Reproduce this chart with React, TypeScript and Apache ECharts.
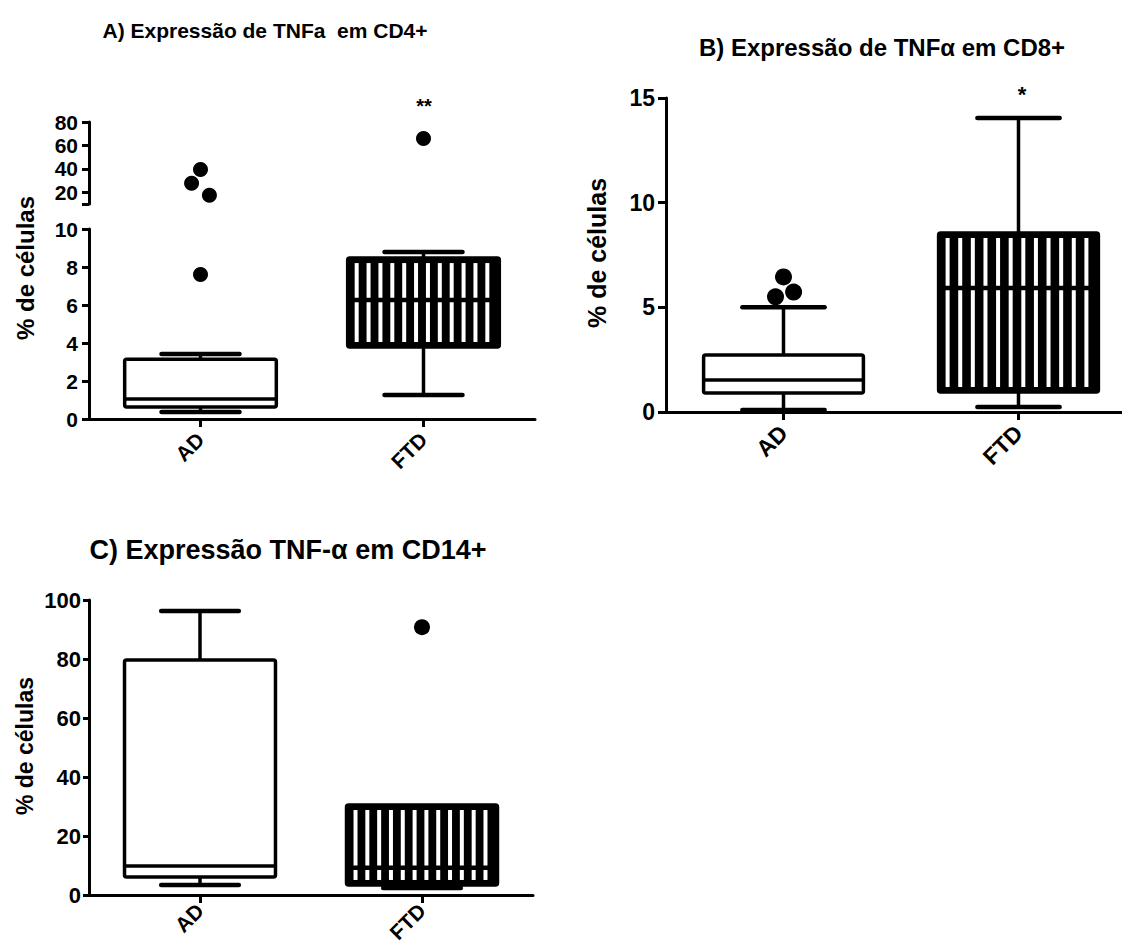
import React, { useEffect, useRef } from "react";
import * as echarts from "echarts";

const categories = ["AD", "FTD"];

// five-number summaries: [min, Q1, median, Q3, max]
const boxA_AD = [0.37, 0.63, 1.05, 3.15, 3.42];
const boxA_FTD = [1.26, 3.79, 6.26, 8.47, 8.79];
const outliersA_AD_low = [7.6];
const outliersA_AD_high = [39.5, 27.7, 17.4];
const jitterA_AD_high = [0, -0.04, 0.04];
const outliersA_FTD_high = [66];

const boxB_AD = [0.1, 0.91, 1.53, 2.72, 5.0];
const boxB_FTD = [0.24, 0.96, 5.92, 8.55, 14.05];
const outliersB_AD = [6.45, 5.5, 5.73];
const jitterB_AD = [0, -0.034, 0.043];

const boxC_AD = [3.4, 6.1, 9.8, 79.7, 96.3];
const boxC_FTD = [2.4, 3.4, 9.2, 30.5, 30.5];
const outliersC_FTD = [90.8];

const ticksA_low = [0, 2, 4, 6, 8, 10];
const ticksA_high = [20, 40, 60, 80];
const ticksB = [0, 5, 10, 15];
const ticksC = [0, 20, 40, 60, 80, 100];

const FONT = "'Liberation Sans', Arial, Helvetica, sans-serif";

function renderBox(params: any, api: any) {
  const x = api.value(0);
  const lo = api.coord([x, api.value(1)]);
  const q1 = api.coord([x, api.value(2)]);
  const med = api.coord([x, api.value(3)]);
  const q3 = api.coord([x, api.value(4)]);
  const hi = api.coord([x, api.value(5)]);
  const unit = api.size([1, 0])[0];
  const w = unit * 0.68;
  const cw = unit * 0.35;
  const cx = lo[0];
  const left = cx - w / 2;
  const hatched = params.dataIndex === 1;
  const line = (x1: number, y1: number, x2: number, y2: number, lw: number, cap = "round") => ({
    type: "line",
    shape: { x1, y1, x2, y2 },
    style: { stroke: "#000", lineWidth: lw, lineCap: cap },
  });
  const children: any[] = [];
  children.push(line(cx, hi[1], cx, q3[1], 3.5, "butt"));
  children.push(line(cx, q1[1], cx, lo[1], 3.5, "butt"));
  if (hi[1] < q3[1] - 1) children.push(line(cx - cw / 2, hi[1], cx + cw / 2, hi[1], 4.5));
  children.push(line(cx - cw / 2, lo[1], cx + cw / 2, lo[1], 4.5));
  children.push({
    type: "rect",
    shape: { x: left, y: q3[1], width: w, height: q1[1] - q3[1], r: 2 },
    style: { fill: hatched ? "#000" : "#fff", stroke: "#000", lineWidth: 3.5 },
  });
  if (hatched) {
    const n = 12;
    const sw = 4;
    const start = left + 7;
    const period = (w - 17 - sw) / (n - 1);
    for (let i = 0; i < n; i++) {
      children.push({
        type: "rect",
        shape: { x: start + i * period, y: q3[1] + 5, width: sw, height: q1[1] - q3[1] - 10 },
        style: { fill: "#fff" },
      });
    }
  }
  children.push(line(left, med[1], left + w, med[1], hatched ? 4.5 : 3.5, "butt"));
  return { type: "group", children };
}

function xAxisCfg(gridIndex: number, show: boolean, fontSize: number, margin: number) {
  return {
    type: "value",
    gridIndex,
    min: -0.5,
    max: 1.5,
    show,
    splitLine: { show: false },
    axisLine: { show: true, onZero: false, lineStyle: { color: "#000", width: 3 } },
    axisTick: { show: true, customValues: [0, 1], length: 8, lineStyle: { color: "#000", width: 3 } },
    axisLabel: {
      customValues: [0, 1],
      formatter: (v: number) => categories[Math.round(v)] ?? "",
      rotate: 45,
      fontSize,
      fontWeight: "bold",
      color: "#000",
      fontFamily: FONT,
      margin,
    },
  };
}

function yAxisCfg(
  gridIndex: number,
  min: number,
  max: number,
  ticks: number[],
  fontSize: number,
  margin: number,
  tickLen: number,
  extraTicks: number[] = []
) {
  return {
    type: "value",
    gridIndex,
    min,
    max,
    splitLine: { show: false },
    axisLine: { show: true, onZero: false, lineStyle: { color: "#000", width: 3 } },
    axisTick: {
      show: true,
      customValues: [...extraTicks, ...ticks],
      length: tickLen,
      lineStyle: { color: "#000", width: 3 },
    },
    axisLabel: {
      customValues: ticks,
      fontSize,
      fontWeight: "bold",
      color: "#000",
      fontFamily: FONT,
      margin,
    },
  };
}

function boxSeries(idx: number, a: number[], b: number[]) {
  return {
    type: "custom",
    xAxisIndex: idx,
    yAxisIndex: idx,
    renderItem: renderBox,
    encode: { x: 0, y: [1, 2, 3, 4, 5] },
    data: [
      [0, ...a],
      [1, ...b],
    ],
    z: 2,
  };
}

function dotSeries(idx: number, pts: number[][], size: number) {
  return {
    type: "scatter",
    xAxisIndex: idx,
    yAxisIndex: idx,
    symbol: "circle",
    symbolSize: size,
    itemStyle: { color: "#000", opacity: 1 },
    data: pts,
    z: 5,
  };
}

const App: React.FC = () => {
  const ref = useRef<HTMLDivElement>(null);
  useEffect(() => {
    if (!ref.current) return;
    const chart = echarts.init(ref.current, undefined, { renderer: "svg" });
    const ylabel = (x: number, y: number, size: number) => ({
      type: "text",
      x,
      y,
      rotation: Math.PI / 2,
      style: {
        text: "% de células",
        font: `bold ${size}px ${FONT}`,
        fill: "#000",
        align: "center",
        verticalAlign: "middle",
      },
    });
    const title = (x: number, y: number, size: number, text: string) => ({
      type: "text",
      x,
      y,
      style: { text, font: `bold ${size}px ${FONT}`, fill: "#000", align: "center", verticalAlign: "middle" },
    });
    const option: any = {
      animation: false,
      backgroundColor: "#fff",
      textStyle: { fontFamily: FONT },
      grid: [
        { left: 89, top: 122, width: 446, height: 82, outerBoundsMode: "none" },
        { left: 89, top: 229, width: 446, height: 190, outerBoundsMode: "none" },
        { left: 666, top: 98, width: 470, height: 314, outerBoundsMode: "none" },
        { left: 89, top: 600, width: 444, height: 295, outerBoundsMode: "none" },
      ],
      xAxis: [
        xAxisCfg(0, false, 21, 17),
        xAxisCfg(1, true, 21, 17),
        xAxisCfg(2, true, 23, 17),
        xAxisCfg(3, true, 21, 12),
      ],
      yAxis: [
        yAxisCfg(0, 10, 80, ticksA_high, 21, 11, 7, [10]),
        yAxisCfg(1, 0, 10, ticksA_low, 21, 11, 7),
        yAxisCfg(2, 0, 15, ticksB, 23, 11, 8),
        yAxisCfg(3, 0, 100, ticksC, 22, 8, 6),
      ],
      series: [
        boxSeries(1, boxA_AD, boxA_FTD),
        dotSeries(1, outliersA_AD_low.map((v) => [0, v]), 15),
        dotSeries(
          0,
          [
            ...outliersA_AD_high.map((v, i) => [0 + jitterA_AD_high[i], v]),
            ...outliersA_FTD_high.map((v) => [1, v]),
          ],
          15
        ),
        boxSeries(2, boxB_AD, boxB_FTD),
        dotSeries(2, outliersB_AD.map((v, i) => [0 + jitterB_AD[i], v]), 17),
        boxSeries(3, boxC_AD, boxC_FTD),
        dotSeries(3, outliersC_FTD.map((v) => [1, v]), 16),
      ],
      graphic: [
        title(265, 30, 21, "A) Expressão de TNFa  em CD4+"),
        title(882, 47, 24, "B) Expressão de TNFα em CD8+"),
        title(288, 550, 27, "C) Expressão TNF-α em CD14+"),
        {
          type: "text",
          x: 424,
          y: 106,
          style: { text: "**", font: `bold 20px ${FONT}`, fill: "#000", align: "center", verticalAlign: "middle" },
        },
        {
          type: "text",
          x: 1022,
          y: 94,
          style: { text: "*", font: `bold 22px ${FONT}`, fill: "#000", align: "center", verticalAlign: "middle" },
        },
        ylabel(25, 268, 24),
        ylabel(597, 253, 25),
        ylabel(25, 746, 23),
      ],
    };
    chart.setOption(option);
    return () => chart.dispose();
  }, []);
  return (
    <div
      ref={ref}
      style={{ position: "absolute", left: 0, top: 0, width: 1122, height: 948, background: "#fff" }}
    />
  );
};

export default App;
